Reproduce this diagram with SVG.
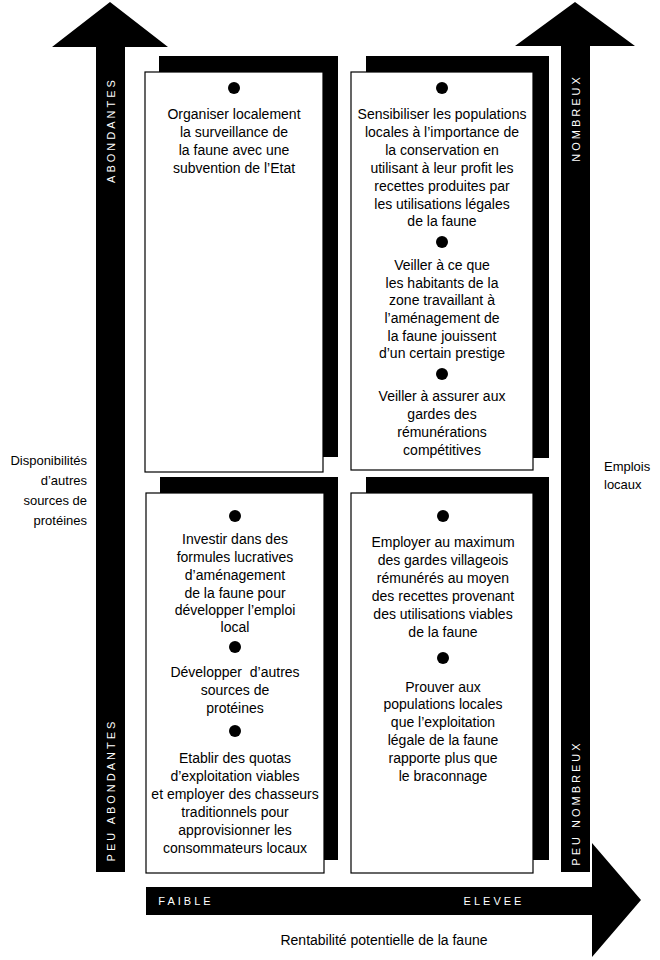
<svg xmlns="http://www.w3.org/2000/svg" width="660" height="960" viewBox="0 0 660 960">
<style>
.t{font-family:"Liberation Sans",Arial,sans-serif;font-size:14px;fill:#000;text-anchor:middle}
.lab{font-family:"Liberation Sans",Arial,sans-serif;font-size:13px;fill:#000}
.ax{font-family:"Liberation Sans",Arial,sans-serif;font-size:11px;fill:#fff;letter-spacing:3px;text-anchor:middle;dominant-baseline:central}
.sh{fill:#000}
.bx{fill:#fff;stroke:#000;stroke-width:1.2}
.dot{fill:#000}
</style>
<rect width="660" height="960" fill="#fff"/>
<g id="connectors">
<polygon points="96,872 96,47 52,47 110,2 168,47 125,47 125,872" fill="#000"/>
<polygon points="561,872 561,46 515,46 575,2 635,46 590,46 590,872" fill="#000"/>
<polygon points="146,887 592,887 592,843 641,900 592,957 592,915 146,915" fill="#000"/>
<text class="ax" transform="translate(111,130) rotate(-90)">ABONDANTES</text>
<text class="ax" transform="translate(111,790) rotate(-90)">PEU ABONDANTES</text>
<text class="ax" transform="translate(576,118) rotate(-90)">NOMBREUX</text>
<text class="ax" transform="translate(576,803) rotate(-90)">PEU NOMBREUX</text>
<text class="ax" x="186" y="901">FAIBLE</text>
<text class="ax" x="494" y="901">ELEVEE</text>
</g>
<g id="axis-labels">
<text class="lab" x="87" y="465" text-anchor="end">Disponibilités</text>
<text class="lab" x="87" y="485" text-anchor="end">d’autres</text>
<text class="lab" x="87" y="505" text-anchor="end">sources de</text>
<text class="lab" x="87" y="525" text-anchor="end">protéines</text>
<text class="lab" x="604" y="471">Emplois</text>
<text class="lab" x="604" y="489">locaux</text>
<text class="t" x="384" y="945">Rentabilité potentielle de la faune</text>
</g>
<g id="box-top-left">
<rect class="sh" x="159" y="56" width="179" height="401"/>
<rect class="bx" x="145" y="72" width="178" height="400"/>
<circle class="dot" cx="234" cy="88" r="6"/>
<text class="t" x="234" y="119">Organiser localement</text>
<text class="t" x="234" y="137">la surveillance de</text>
<text class="t" x="234" y="155">la faune avec une</text>
<text class="t" x="234" y="173">subvention de l’Etat</text>
</g>
<g id="box-top-right">
<rect class="sh" x="366" y="56" width="183" height="402"/>
<rect class="bx" x="351" y="72" width="182" height="398"/>
<circle class="dot" cx="442" cy="88" r="6"/>
<text class="t" x="442" y="119">Sensibiliser les populations</text>
<text class="t" x="442" y="137">locales à l’importance de</text>
<text class="t" x="442" y="155">la conservation en</text>
<text class="t" x="442" y="173">utilisant à leur profit les</text>
<text class="t" x="442" y="191">recettes produites par</text>
<text class="t" x="442" y="209">les utilisations légales</text>
<text class="t" x="442" y="226">de la faune</text>
<circle class="dot" cx="442" cy="242" r="6"/>
<text class="t" x="442" y="270">Veiller à ce que</text>
<text class="t" x="442" y="288">les habitants de la</text>
<text class="t" x="442" y="305">zone travaillant à</text>
<text class="t" x="442" y="323">l’aménagement de</text>
<text class="t" x="442" y="341">la faune jouissent</text>
<text class="t" x="442" y="358">d’un certain prestige</text>
<circle class="dot" cx="442" cy="374" r="6"/>
<text class="t" x="442" y="401">Veiller à assurer aux</text>
<text class="t" x="442" y="419">gardes des</text>
<text class="t" x="442" y="437">rémunérations</text>
<text class="t" x="442" y="455">compétitives</text>
</g>
<g id="box-bottom-left">
<rect class="sh" x="160" y="477" width="178" height="383"/>
<rect class="bx" x="146" y="493" width="178" height="380"/>
<circle class="dot" cx="235" cy="516" r="6"/>
<text class="t" x="235" y="544">Investir dans des</text>
<text class="t" x="235" y="562">formules lucratives</text>
<text class="t" x="235" y="580">d’aménagement</text>
<text class="t" x="235" y="598">de la faune pour</text>
<text class="t" x="235" y="615">développer l’emploi</text>
<text class="t" x="235" y="632">local</text>
<circle class="dot" cx="235" cy="647" r="6"/>
<text class="t" x="235" y="677" xml:space="preserve">Développer  d’autres</text>
<text class="t" x="235" y="695">sources de</text>
<text class="t" x="235" y="713">protéines</text>
<circle class="dot" cx="235" cy="731" r="6"/>
<text class="t" x="235" y="763">Etablir des quotas</text>
<text class="t" x="235" y="781">d’exploitation viables</text>
<text class="t" x="235" y="799">et employer des chasseurs</text>
<text class="t" x="235" y="817">traditionnels pour</text>
<text class="t" x="235" y="835">approvisionner les</text>
<text class="t" x="235" y="853">consommateurs locaux</text>
</g>
<g id="box-bottom-right">
<rect class="sh" x="366" y="477" width="183" height="383"/>
<rect class="bx" x="351" y="493" width="182" height="380"/>
<circle class="dot" cx="443" cy="516" r="6"/>
<text class="t" x="443" y="547">Employer au maximum</text>
<text class="t" x="443" y="565">des gardes villageois</text>
<text class="t" x="443" y="583">rémunérés au moyen</text>
<text class="t" x="443" y="601">des recettes provenant</text>
<text class="t" x="443" y="619">des utilisations viables</text>
<text class="t" x="443" y="637">de la faune</text>
<circle class="dot" cx="443" cy="658" r="6"/>
<text class="t" x="443" y="692">Prouver aux</text>
<text class="t" x="443" y="709">populations locales</text>
<text class="t" x="443" y="727">que l’exploitation</text>
<text class="t" x="443" y="745">légale de la faune</text>
<text class="t" x="443" y="763">rapporte plus que</text>
<text class="t" x="443" y="781">le braconnage</text>
</g>
</svg>
